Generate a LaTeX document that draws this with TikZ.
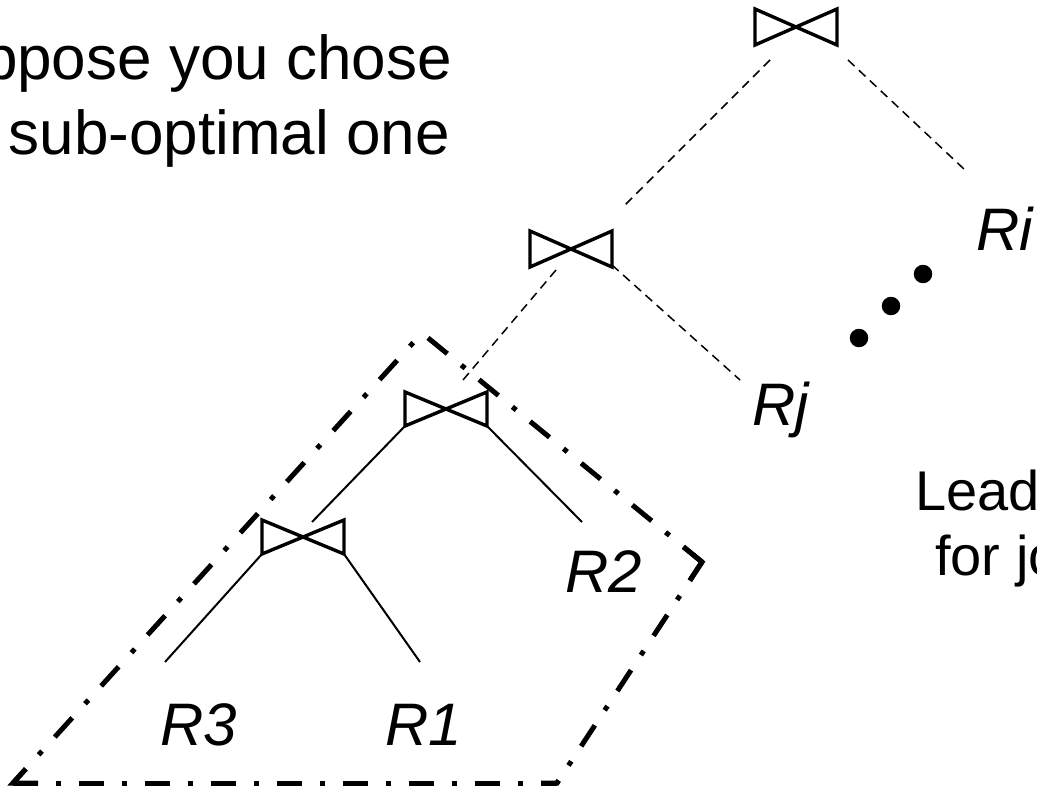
\documentclass[tikz,border=0pt]{standalone}
\usepackage{fontspec}
\setmainfont{Liberation Sans}
\usetikzlibrary{calc}
\begin{document}
\begin{tikzpicture}[x=1pt,y=-1pt,
  bowtie/.style={line width=3.4pt, line join=miter},
  joinbox/.style={minimum width=82pt, minimum height=34pt, inner sep=0pt, outer sep=0pt},
  tree/.style={line width=2pt},
  dashedge/.style={line width=1.5pt, dash pattern=on 9pt off 6pt},
  frame/.style={line width=5pt, dash pattern=on 25pt off 18pt on 5pt off 18pt},
  frameL/.style={line width=5pt, dash pattern=on 26pt off 19pt on 5pt off 19pt},
  corner/.style={line width=5pt, line join=miter},
  lbl/.style={inner sep=0pt, font=\fontsize{60}{72}\selectfont\itshape},
  txt/.style={inner sep=0pt, font=\fontsize{62}{74}\selectfont},
  rtxt/.style={inner sep=0pt, font=\fontsize{56}{66}\selectfont},
  bigdot/.style={circle, fill, inner sep=0pt, minimum size=18.5pt}]
\useasboundingbox (0,0) rectangle (1037,792);
\clip (0,0) rectangle (1037,792);

% join operators
\node[joinbox, minimum height=36pt] (j1) at (796,27) {};
\node[joinbox, minimum height=36pt] (j2) at (571,249) {};
\node[joinbox] (j3) at (446,409) {};
\node[joinbox] (j4) at (303,537) {};
\foreach \j in {j1,j2,j3,j4}
  \draw[bowtie] (\j.north west) -- (\j.south east) -- (\j.north east) -- (\j.south west) -- cycle;

% labels
\node[lbl, anchor=base west] (r3) at (160,745) {R3};
\node[lbl, anchor=base west] (r1) at (385,745) {R1};
\node[lbl, anchor=base west] (r2) at (565,592) {R2};
\node[lbl, anchor=base west] (rj) at (752,425) {Rj};
\node[lbl, anchor=base west] (ri) at (976,250) {Ri};

% solid tree edges
\coordinate (a34) at (312,522);
\coordinate (a32) at (582,522);
\coordinate (a43) at (165,662);
\coordinate (a41) at (420,662);
\draw[tree] (j3.south west) -- (a34);
\draw[tree] (j3.south east) -- (a32);
\draw[tree] (j4.south west) -- (a43);
\draw[tree] (j4.south east) -- (a41);

% dashed edges
\coordinate (d1a) at (770,60);  \coordinate (d1b) at (625,205);
\coordinate (d2a) at (848,60);  \coordinate (d2b) at (965,170);
\coordinate (d3a) at (556,270); \coordinate (d3b) at (463,380);
\coordinate (d4a) at (612,265); \coordinate (d4b) at (740,380);
\draw[dashedge] (d1a) -- (d1b);
\draw[dashedge] (d2a) -- (d2b);
\draw[dashedge] (d3a) -- (d3b);
\draw[dashedge] (d4a) -- (d4b);

% dots
\node[bigdot] (p1) at (859,338) {};
\node[bigdot] (p2) at (891,306) {};
\node[bigdot] (p3) at (923,274) {};

% dash-dot frame
\coordinate (f1) at (422,333);
\coordinate (f2) at (13,783);
\coordinate (f3) at (557,783);
\coordinate (f4) at (702,562);
\draw[frame, dash phase=0pt] (f2) -- (f3);
\draw[frame, dash phase=22pt] (f3) -- (f4);
\draw[frame, dash phase=1pt] (f4) -- (f1);
\draw[frameL, dash phase=32pt] (f1) -- (f2);
\draw[corner] ($(f2)!19pt!(f1)$) -- (f2) -- ($(f2)!25pt!(f3)$);
\draw[corner] ($(f3)!16pt!(f2)$) -- (f3) -- ($(f3)!3pt!(f4)$);
\draw[corner] ($(f4)!22pt!(f3)$) -- (f4) -- ($(f4)!24pt!(f1)$);

% texts
\node[txt, anchor=base east] (t1) at (452,80) {Suppose you chose};
\node[txt, anchor=base east] (t2) at (450,154) {sub-optimal one};
\node[rtxt, anchor=base west] (t3) at (915,510) {Lead};
\node[rtxt, anchor=base west] (t4) at (935,575) {for jo};
\end{tikzpicture}
\end{document}
